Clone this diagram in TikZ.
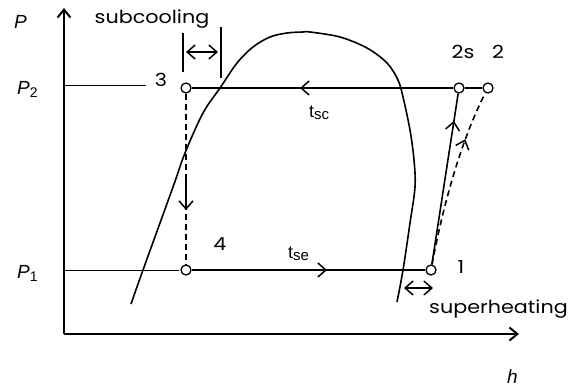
\documentclass[tikz,border=0pt]{standalone}
\usepackage{fontspec}
\setmainfont[FakeStretch=1.15]{Poppins}
\newfontfamily\arialf{Liberation Sans}
\usetikzlibrary{arrows.meta,decorations.markings}
\tikzset{
  axisline/.style={line width=2pt,-{Straight Barb[length=8pt,width=13pt]}},
  proc/.style={line width=1.6pt},
  guide/.style={line width=0.8pt},
  tick/.style={line width=1.4pt},
  dashline/.style={proc,dash pattern=on 6pt off 4pt},
  statept/.style={circle,draw,fill=white,line width=1.3pt,minimum size=10pt,inner sep=0pt},
  tipto/.tip={Straight Barb[length=8pt,width=14pt,line width=1.5pt]},
  lbl/.style={font=\fontsize{18}{20}\selectfont,inner sep=0pt},
  axlbl/.style={font=\arialf\fontsize{19}{21}\selectfont,inner sep=0pt},
  tlbl/.style={font=\arialf\fontsize{18}{20}\selectfont,inner sep=0pt},
  midarrow/.style={postaction={decorate},decoration={markings,mark=at position #1 with {\arrow[line width=1.6pt]{tipto}}}}
}
\begin{document}
\begin{tikzpicture}[x=1pt,y=-1pt]
\useasboundingbox (0,0) rectangle (575,389);
% axes
\coordinate (O) at (64,334);
\coordinate (ytop) at (64,8);
\coordinate (xend) at (519,334);
\draw[axisline] (O) -- (ytop);
\draw[axisline] (O) -- (xend);
\node[axlbl,anchor=base west] (Plbl) at (14,28) {\itshape P};
\node[axlbl,anchor=base west] (hlbl) at (507,383) {\itshape h};
\node[axlbl,anchor=base west] (P2lbl) at (17,94) {\itshape P\textsubscript{\upshape\fontsize{14}{14}\selectfont 2}};
\node[axlbl,anchor=base west] (P1lbl) at (17,278) {\itshape P\textsubscript{\upshape\fontsize{14}{14}\selectfont 1}};
% guide lines
\coordinate (g2a) at (64,85);
\coordinate (g2b) at (146,85);
\coordinate (g1a) at (64,270);
\coordinate (g1b) at (179,270);
\draw[guide] (g2a) -- (g2b);
\draw[guide] (g1a) -- (g1b);
% saturation dome
\draw[proc] plot[smooth,tension=0.55] coordinates {(131,304) (143,270) (173,187) (185,153) (203,113) (220,88) (237,63) (253,47) (270,37) (287,33) (303,32) (310,32) (340,37) (367,48) (387,63) (398,80) (403,97) (410,130) (414,160) (415,187) (410,223) (403,270) (397,302)};
% state points
\node[statept] (s3) at (186,88) {};
\node[statept] (s4) at (186,270) {};
\node[statept] (s1) at (431,270) {};
\node[statept] (s2s) at (459,88) {};
\node[statept] (s2) at (488,88) {};
% processes
\draw[proc] (s2) -- (s2s);
\draw[proc] (s2s) -- (s3);
\draw[proc] (s4) -- (s1);
\draw[dashline] (s3) -- (s4);
\draw[proc,midarrow=0.84] (s1) -- (s2s);
\draw[dashline,midarrow=0.72] (s1) .. controls (446,190) and (466,130) .. (s2);
% arrows on horizontal / vertical lines
\coordinate (ta) at (331,88);
\coordinate (tb) at (300,88);
\draw[line width=2.2pt,-tipto] (ta) -- (tb);
\coordinate (ba) at (297,270);
\coordinate (bb) at (327,270);
\draw[line width=2.2pt,-tipto] (ba) -- (bb);
\coordinate (va) at (186,180);
\coordinate (vb) at (186,210);
\draw[proc,-tipto] (va) -- (vb);
% subcooling marker
\coordinate (sc1a) at (183,33);
\coordinate (sc1b) at (183,72);
\coordinate (sc2a) at (221,27);
\coordinate (sc2b) at (221,78);
\draw[tick] (sc1a) -- (sc1b);
\draw[tick] (sc2a) -- (sc2b);
\coordinate (sca) at (186,52);
\coordinate (scb) at (218,52);
\draw[proc,tipto-tipto] (sca) -- (scb);
% superheating marker
\coordinate (sha) at (404,288);
\coordinate (shb) at (433,288);
\draw[proc,tipto-tipto] (sha) -- (shb);
% labels
\node[lbl,anchor=base] (subc) at (152,23) {subcooling};
\node[lbl,anchor=base west] (suph) at (429,313) {superheating};
\node[lbl,anchor=base] (l3) at (161,86) {3};
\node[lbl,anchor=base] (l4) at (220,250) {4};
\node[lbl,anchor=base] (l1) at (461,273) {1};
\node[lbl,anchor=base] (l2s) at (463,58) {2s};
\node[lbl,anchor=base] (l2) at (498,58) {2};
\node[tlbl,anchor=base west] (tsc) at (309,117) {t\textsubscript{\fontsize{15}{15}\selectfont sc}};
\node[tlbl,anchor=base west] (tse) at (288,258) {t\textsubscript{\fontsize{15}{15}\selectfont se}};
\end{tikzpicture}
\end{document}
